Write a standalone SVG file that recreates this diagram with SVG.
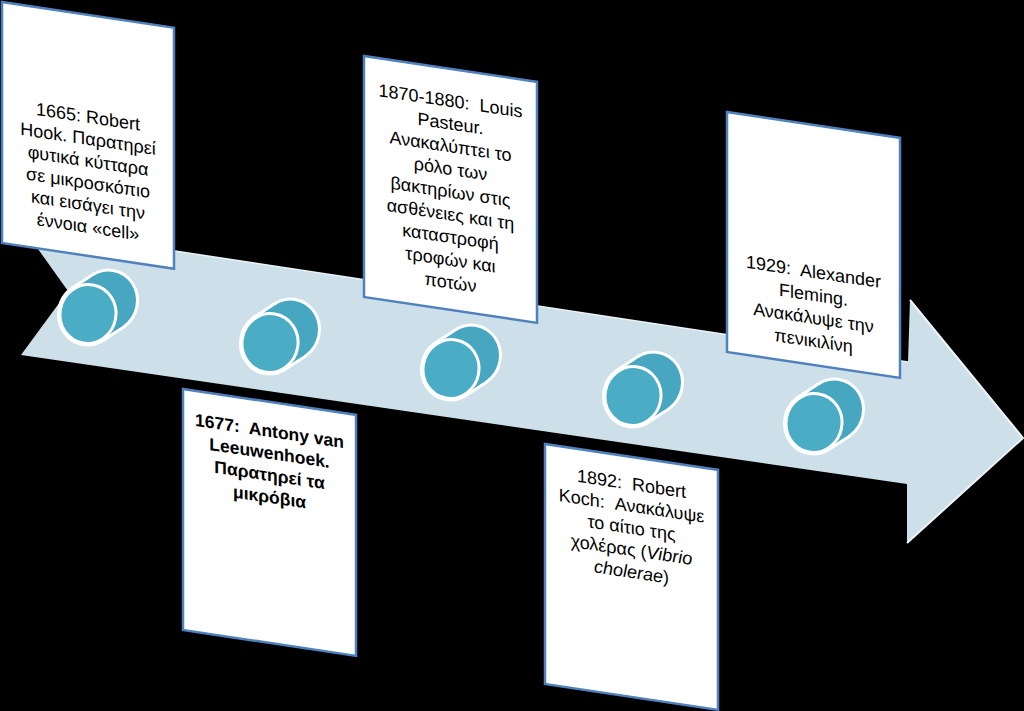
<svg xmlns="http://www.w3.org/2000/svg" xmlns:xlink="http://www.w3.org/1999/xlink" width="1024" height="711" viewBox="0 0 1024 711">
<style>
.box{fill:#ffffff;stroke:#4f81bd;stroke-width:2.5}
.t{font-family:"Liberation Sans","Noto Sans",Arial,sans-serif;font-size:18px;fill:#000;text-anchor:middle}
.b{font-weight:bold;font-size:17.5px}
.i{font-style:italic}
</style>
<defs>
<g id="cyl">
<g fill="#ffffff" stroke="#ffffff" stroke-width="6" stroke-linejoin="round">
<ellipse cx="17.4" cy="-16.3" rx="28" ry="29.5"/>
<polygon points="18.6,22.1 36,5.8 -1.2,-38.4 -18.6,-22.1"/>
<ellipse cx="0" cy="0" rx="28" ry="29.5"/>
</g>
<g fill="#47a6c0">
<ellipse cx="17.4" cy="-16.3" rx="28" ry="29.5"/>
<polygon points="18.6,22.1 36,5.8 -1.2,-38.4 -18.6,-22.1"/>
</g>
<ellipse cx="0" cy="0" rx="28" ry="29.5" fill="#4bacc6" stroke="#ffffff" stroke-width="3"/>
</g>
</defs>
<rect width="1024" height="711" fill="#000000"/>
<g id="timeline-arrow">
<polygon points="23,228 908,362 910,300 1023,438 907,543 907,484 21,355 68,291" fill="#cddfe8"/>
<polyline points="23,228 908,362" fill="none" stroke="#eaf3f7" stroke-width="1.5"/>
<polyline points="910,300 1023,438 907,543" fill="none" stroke="#eef5f8" stroke-width="2"/>
</g>
<g id="markers">
<use xlink:href="#cyl" href="#cyl" transform="translate(88,314) rotate(10)"/>
<use xlink:href="#cyl" href="#cyl" transform="translate(270,343) rotate(10)"/>
<use xlink:href="#cyl" href="#cyl" transform="translate(451,369) rotate(10)"/>
<use xlink:href="#cyl" href="#cyl" transform="translate(633,396) rotate(10)"/>
<use xlink:href="#cyl" href="#cyl" transform="translate(814,423) rotate(10)"/>
</g>
<g id="box-1665" transform="translate(2,2) skewY(8.5)">
<rect class="box" width="172" height="241"/>
<text class="t"><tspan x="86" y="108">1665: Robert</tspan><tspan x="86" y="130">Hook. Παρατηρεί</tspan><tspan x="86" y="152">φυτικά κύτταρα</tspan><tspan x="86" y="174">σε μικροσκόπιο</tspan><tspan x="86" y="196">και εισάγει την</tspan><tspan x="86" y="218">έννοια «cell»</tspan></text>
</g>
<g id="box-1677" transform="translate(183,389) skewY(8.5)">
<rect class="box" width="173" height="241"/>
<text class="t b"><tspan x="86.5" y="35">1677:&#160; Antony van</tspan><tspan x="86.5" y="57">Leeuwenhoek.</tspan><tspan x="86.5" y="79">Παρατηρεί τα</tspan><tspan x="86.5" y="101">μικρόβια</tspan></text>
</g>
<g id="box-1870" transform="translate(364,56) skewY(8.5)">
<rect class="box" width="173" height="241"/>
<text class="t"><tspan x="86.5" y="38">1870-1880:&#160; Louis</tspan><tspan x="86.5" y="60.7">Pasteur.</tspan><tspan x="86.5" y="83.4">Ανακαλύπτει το</tspan><tspan x="86.5" y="106.1">ρόλο των</tspan><tspan x="86.5" y="128.8">βακτηρίων στις</tspan><tspan x="86.5" y="151.5">ασθένειες και τη</tspan><tspan x="86.5" y="174.2">καταστροφή</tspan><tspan x="86.5" y="196.9">τροφών και</tspan><tspan x="86.5" y="219.6">ποτών</tspan></text>
</g>
<g id="box-1892" transform="translate(545,444) skewY(8.5)">
<rect class="box" width="173" height="240"/>
<text class="t"><tspan x="86.5" y="33">1892:&#160; Robert</tspan><tspan x="86.5" y="55">Koch:&#160; Ανακάλυψε</tspan><tspan x="86.5" y="77">το αίτιο της</tspan><tspan x="86.5" y="99">χολέρας (<tspan class="i">Vibrio</tspan></tspan><tspan x="86.5" y="121"><tspan class="i">cholerae</tspan>)</tspan></text>
</g>
<g id="box-1929" transform="translate(727,112) skewY(8.5)">
<rect class="box" width="173" height="240"/>
<text class="t"><tspan x="86.5" y="153">1929:&#160; Alexander</tspan><tspan x="86.5" y="176">Fleming.</tspan><tspan x="86.5" y="199">Ανακάλυψε την</tspan><tspan x="86.5" y="222">πενικιλίνη</tspan></text>
</g>
</svg>
